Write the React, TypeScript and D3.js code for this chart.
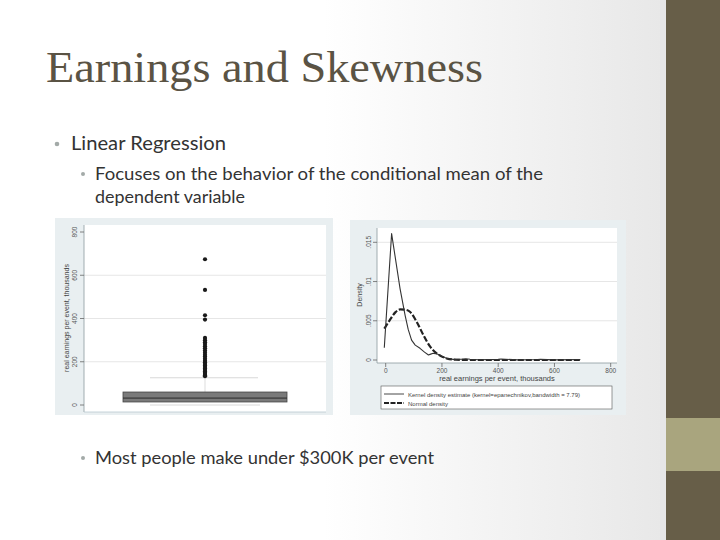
import React from "react";
import * as d3 from "d3";

// ---------- data ----------
const boxStats = { min: 0, q1: 14, median: 32, q3: 60, whiskerHigh: 126 };
const outliers = [674, 532, 415, 395, 310, 300, 290, 282, 272, 262, 252, 242, 232, 224, 214, 205, 198, 190, 183, 176, 169, 162, 155, 149, 143, 138, 133];
const leftTicks = [0, 200, 400, 600, 800];
const leftGrid = [200, 400, 600];

const kernelX = [-5, 21, 51, 69, 80, 92, 105, 122, 138, 152, 160, 169, 180, 193, 205, 217, 240, 270, 285, 300, 330, 400, 410, 470, 540, 550, 600, 692];
const kernelY = [0.00157, 0.0161, 0.0091, 0.0057, 0.0039, 0.00254, 0.0019, 0.00149, 0.001, 0.00064, 0.00075, 0.00085, 0.0008, 0.00064, 0.0004, 0.0002, 0.00008, 0.0001, 0.00016, 0.0001, 0.00004, 0.00008, 0.00012, 0.00002, 0.00006, 0.00008, 0.00002, 0.00006];
const normalX = [-5, 15, 35, 51, 70, 86, 110, 134, 158, 181, 217, 250, 300, 400, 500, 692];
const normalY = [0.004, 0.0051, 0.0061, 0.00645, 0.0064, 0.00615, 0.00487, 0.00318, 0.0017, 0.00085, 0.0002, 0.00003, 0.0, 0.0, 0.0, 0.0];
const rightXTicks = [0, 200, 400, 600, 800];
const rightYTicks = [0, 0.005, 0.01, 0.015];
const rightYLabels = ["0", ".005", ".01", ".015"];

const bodyFont = "Lato, 'Open Sans', sans-serif";
const plotFont = "'Liberation Sans', Arial, sans-serif";

export default function App() {
  // left panel scales
  const yL = d3.scaleLinear().domain([0, 800]).range([405, 232]);
  const boxX0 = 123, boxX1 = 287, boxCx = 205;

  // right panel scales
  const xR = d3.scaleLinear().domain([0, 800]).range([385.7, 610.7]);
  const yR = d3.scaleLinear().domain([0, 0.015]).range([360, 242.3]);
  const kLine = d3
    .line<[number, number]>()
    .x((d) => xR(d[0]))
    .y((d) => yR(d[1]))
    .curve(d3.curveLinear);
  const nLine = d3
    .line<[number, number]>()
    .x((d) => xR(d[0]))
    .y((d) => yR(d[1]))
    .curve(d3.curveMonotoneX);
  const kernelPath = kLine(kernelX.map((x, i) => [x, kernelY[i]]) as [number, number][]) || "";
  const normalPath = nLine(normalX.map((x, i) => [x, normalY[i]]) as [number, number][]) || "";

  return (
    <div>
      <style>{`body{margin:0}`}</style>
      <svg width={720} height={540} style={{ display: "block" }}>
        <defs>
          <linearGradient id="bg" x1="0" y1="0" x2="1" y2="0">
            <stop offset="0" stopColor="#ffffff" />
            <stop offset="0.45" stopColor="#ffffff" />
            <stop offset="1" stopColor="#e4e4e4" />
          </linearGradient>
        </defs>
        <rect x={0} y={0} width={720} height={540} fill="url(#bg)" />
        {/* right band */}
        <rect x={660} y={0} width={6} height={540} fill="#e6e6e6" />
        <rect x={666} y={0} width={54} height={540} fill="#675e48" />
        <rect x={666} y={418} width={54} height={53} fill="#a9a57e" />

        {/* title */}
        <text x={46} y={82} fontFamily="'Liberation Serif', 'DejaVu Serif', serif" fontSize={44} fill="#5a5344" textLength={437} lengthAdjust="spacingAndGlyphs">
          Earnings and Skewness
        </text>

        {/* bullets */}
        <circle cx={57} cy={144} r={2.3} fill="#a3aaa8" />
        <text x={71} y={150} fontFamily={bodyFont} fontSize={18.5} fill="#333" textLength={155} lengthAdjust="spacingAndGlyphs">Linear Regression</text>
        <circle cx={83} cy={174} r={2} fill="#a3aaa8" />
        <text x={95} y={180} fontFamily={bodyFont} fontSize={17} fill="#333" textLength={448} lengthAdjust="spacingAndGlyphs">Focuses on the behavior of the conditional mean of the</text>
        <text x={95} y={203} fontFamily={bodyFont} fontSize={17} fill="#333" textLength={150} lengthAdjust="spacingAndGlyphs">dependent variable</text>
        <circle cx={83} cy={458} r={2} fill="#a3aaa8" />
        <text x={95} y={464} fontFamily={bodyFont} fontSize={17} fill="#333" textLength={339} lengthAdjust="spacingAndGlyphs">Most people make under $300K per event</text>

        {/* ---------- left panel (box plot) ---------- */}
        <rect x={55} y={218} width={278} height={197} fill="#e9eff1" />
        <rect x={84} y={225} width={242} height={187} fill="#ffffff" />
        {leftGrid.map((v) => (
          <line key={v} x1={84} x2={326} y1={yL(v)} y2={yL(v)} stroke="#e6e6e6" strokeWidth={1} />
        ))}
        <line x1={84} x2={84} y1={225} y2={412} stroke="#8a9aa0" strokeWidth={0.8} />
        <line x1={84} x2={326} y1={412} y2={412} stroke="#b9c9d0" strokeWidth={0.8} />
        {leftTicks.map((v) => (
          <g key={v}>
            <line x1={80} x2={84} y1={yL(v)} y2={yL(v)} stroke="#666" strokeWidth={0.8} />
            <text transform={`translate(77,${yL(v)}) rotate(-90)`} textAnchor="middle" fontFamily={plotFont} fontSize={6.5} fill="#555">{v}</text>
          </g>
        ))}
        <text transform={`translate(69,${318}) rotate(-90)`} textAnchor="middle" fontFamily={plotFont} fontSize={7} fill="#444">real earnings per event, thousands</text>
        {/* whiskers */}
        <line x1={boxCx} x2={boxCx} y1={yL(boxStats.q3)} y2={yL(boxStats.whiskerHigh)} stroke="#ddd" strokeWidth={1} />
        <line x1={150} x2={258} y1={yL(boxStats.whiskerHigh)} y2={yL(boxStats.whiskerHigh)} stroke="#d8d8d8" strokeWidth={1} />
        <line x1={150} x2={260} y1={yL(boxStats.min)} y2={yL(boxStats.min)} stroke="#d8d8d8" strokeWidth={1} />
        {/* box */}
        <rect x={boxX0} y={yL(boxStats.q3)} width={boxX1 - boxX0} height={yL(boxStats.q1) - yL(boxStats.q3)} fill="#7a7a7a" stroke="#444" strokeWidth={0.8} />
        <line x1={boxX0} x2={boxX1} y1={yL(boxStats.median)} y2={yL(boxStats.median)} stroke="#2a2a2a" strokeWidth={1} />
        {outliers.map((v, i) => (
          <circle key={i} cx={boxCx} cy={yL(v)} r={2.1} fill="#1a1a1a" />
        ))}

        {/* ---------- right panel (density) ---------- */}
        <rect x={350} y={220} width={276} height={195} fill="#e9eff1" />
        <rect x={377} y={228} width={240} height={135} fill="#ffffff" />
        {rightYTicks.slice(1).map((v) => (
          <line key={v} x1={377} x2={617} y1={yR(v)} y2={yR(v)} stroke="#e6e6e6" strokeWidth={1} />
        ))}
        <line x1={377} x2={377} y1={228} y2={363} stroke="#8a9aa0" strokeWidth={0.8} />
        <line x1={377} x2={617} y1={363} y2={363} stroke="#8a9aa0" strokeWidth={0.8} />
        {rightYTicks.map((v, i) => (
          <g key={v}>
            <line x1={373} x2={377} y1={yR(v)} y2={yR(v)} stroke="#666" strokeWidth={0.8} />
            <text transform={`translate(371,${yR(v)}) rotate(-90)`} textAnchor="middle" fontFamily={plotFont} fontSize={6.5} fill="#555">{rightYLabels[i]}</text>
          </g>
        ))}
        <text transform={`translate(362,${295}) rotate(-90)`} textAnchor="middle" fontFamily={plotFont} fontSize={7} fill="#444">Density</text>
        {rightXTicks.map((v) => (
          <g key={v}>
            <line x1={xR(v)} x2={xR(v)} y1={363} y2={367} stroke="#666" strokeWidth={0.8} />
            <text x={xR(v)} y={373} textAnchor="middle" fontFamily={plotFont} fontSize={6.5} fill="#555">{v}</text>
          </g>
        ))}
        <text x={497} y={381} textAnchor="middle" fontFamily={plotFont} fontSize={7.5} fill="#444">real earnings per event, thousands</text>
        <path d={normalPath} fill="none" stroke="#222" strokeWidth={2.2} strokeDasharray="6,2" />
        <path d={kernelPath} fill="none" stroke="#333" strokeWidth={1.1} strokeLinejoin="round" />
        {/* legend */}
        <rect x={381} y={386} width={231} height={23} fill="#ffffff" stroke="#555" strokeWidth={0.6} />
        <line x1={384} x2={404} y1={394} y2={394} stroke="#333" strokeWidth={0.9} />
        <text x={408} y={396.5} fontFamily={plotFont} fontSize={6} fill="#444">Kernel density estimate (kernel=epanechnikov,bandwidth = 7.79)</text>
        <line x1={384} x2={404} y1={403} y2={403} stroke="#222" strokeWidth={2} strokeDasharray="5,1.5" />
        <text x={408} y={405.5} fontFamily={plotFont} fontSize={6} fill="#444">Normal density</text>
      </svg>
    </div>
  );
}
